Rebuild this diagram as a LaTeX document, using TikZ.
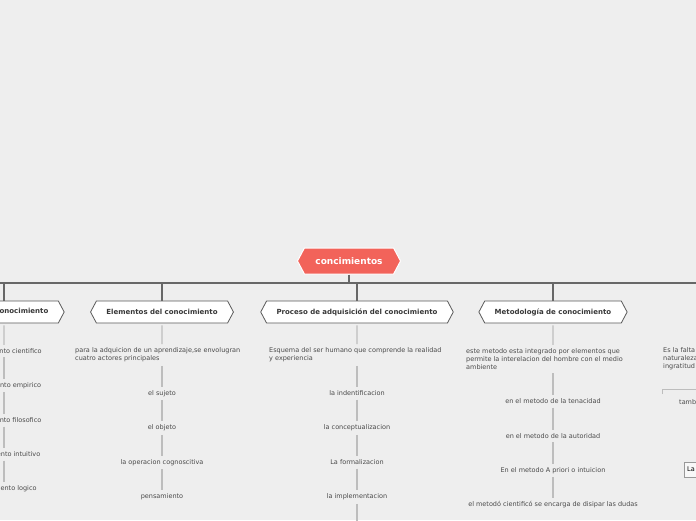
\documentclass[tikz,border=0pt]{standalone}
\usepackage{fontspec}
\setmainfont{DejaVu Sans}
\definecolor{bgmap}{HTML}{EEEEEE}
\definecolor{rootred}{HTML}{F2635A}
\definecolor{bargray}{HTML}{676767}
\definecolor{edgegray}{HTML}{5A5A5A}
\definecolor{titlegray}{HTML}{383838}
\definecolor{leafgray}{HTML}{4A4A4A}
\definecolor{linegray}{HTML}{BDBDBD}
\usetikzlibrary{shapes.symbols, positioning}

\tikzset{
  rootnode/.style={signal, signal to=west and east, signal pointer angle=124,
    fill=rootred, draw=white, line width=1pt, text=white,
    font=\fontsize{9}{11}\selectfont\bfseries, minimum height=26pt, inner xsep=11pt},
  branchnode/.style={signal, signal to=west and east, signal pointer angle=124,
    fill=white, draw=edgegray, line width=0.8pt, text=titlegray,
    font=\fontsize{7}{8}\selectfont\bfseries, minimum height=22pt, inner xsep=10pt},
  leafnode/.style={font=\fontsize{6.5}{8}\selectfont, text=leafgray, inner xsep=0pt, inner ysep=3.5pt},
  descnode/.style={leafnode, align=left, anchor=west},
  barline/.style={draw=bargray, line width=1.6pt},
  stemline/.style={draw=bargray, line width=1.3pt},
  leafline/.style={draw=linegray, line width=1.2pt}
}

\begin{document}
\begin{tikzpicture}[x=1pt, y=-1pt]
  \fill[bgmap] (0,0) rectangle (696,520);
  \useasboundingbox (0,0) rectangle (696,520);

  \node[rootnode] (root) at (349,261) {concimientos};
  \coordinate (barL) at (0,283);
  \coordinate (barR) at (696,283);
  \draw[barline] (barL) -- (barR);
  \draw[stemline] (root.south) -- (root.south |- barL);

  \foreach \bx/\bname/\btitle in {
    4/tipos/Tipos de conocimiento,
    162/elem/Elementos del conocimiento,
    357/proc/Proceso de adquisición del conocimiento,
    553/meto/Metodología de conocimiento} {
    \node[branchnode] (\bname) at (\bx,312) {\btitle};
    \draw[stemline] (\bname.north) -- (\bname.north |- barL);
  }

  \foreach \i/\ty/\ttext in {
    1/351/conocimiento cientifico,
    2/385.5/conocimiento empirico,
    3/420.5/conocimiento filosofico,
    4/454.5/conocimiento intuitivo,
    5/489/conocimiento logico}
    \node[leafnode] (tipos\i) at (4,\ty) {\ttext};
  \draw[leafline, shorten <=2pt] (tipos) -- (tipos1);
  \foreach \i [count=\j from 2] in {1,...,4}
    \draw[leafline] (tipos\i) -- (tipos\j);

  \node[descnode] (elemdesc) at (75,355) {para la adquicion de un aprendizaje,se envolugran\\cuatro actores principales};
  \node[descnode] (procdesc) at (269,355) {Esquema del ser humano que comprende la realidad\\y experiencia};
  \node[descnode] (metodesc) at (466,359) {este metodo esta integrado por elementos que\\permite la interelacion del hombre con el medio\\ambiente};

  \foreach \i/\ty/\ttext in {
    1/393.5/el sujeto,
    2/428/el objeto,
    3/462.5/la operacion cognoscitiva,
    4/497/pensamiento}
    \node[leafnode] (elem\i) at (162,\ty) {\ttext};
  \foreach \i/\ty/\ttext in {
    1/393.5/la indentificacion,
    2/428/la conceptualizacion,
    3/462.5/La formalizacion,
    4/497/la implementacion}
    \node[leafnode] (proc\i) at (357,\ty) {\ttext};
  \coordinate (proc5) at (357,540);
  \foreach \i/\ty/\ttext in {
    1/401.5/en el metodo de la tenacidad,
    2/436/en el metodo de la autoridad,
    3/470.5/En el metodo A priori o intuicion,
    4/505/el metodó cientificó se encarga de disipar las dudas}
    \node[leafnode] (meto\i) at (553,\ty) {\ttext};

  \foreach \bname in {elem, proc, meto} {
    \draw[leafline, shorten <=2pt] (\bname) -- (\bname |- \bname desc.north);
    \draw[leafline] (\bname |- \bname desc.south) -- (\bname1);
    \foreach \i [count=\j from 2] in {1,...,3}
      \draw[leafline] (\bname\i) -- (\bname\j);
  }
  \draw[leafline] (proc4) -- (proc5);

  \node[descnode] (faltadesc) at (663,359) {Es la falta de\\naturaleza\\ingratitud};
  \coordinate (faltasplit) at (662,394);
  \coordinate (faltaright) at (700,389.5);
  \draw[leafline, line width=0.9pt] (faltasplit) |- (faltaright);
  \node[leafnode, anchor=west] (tambien) at (679,401.5) {también};
  \node[draw=gray!80, fill=white!60!bgmap, font=\fontsize{6.5}{8}\selectfont, text=black,
    anchor=west, minimum height=15pt, text width=34pt, inner xsep=3pt, align=left] (labox) at (684,469.5) {La};
\end{tikzpicture}
\end{document}
